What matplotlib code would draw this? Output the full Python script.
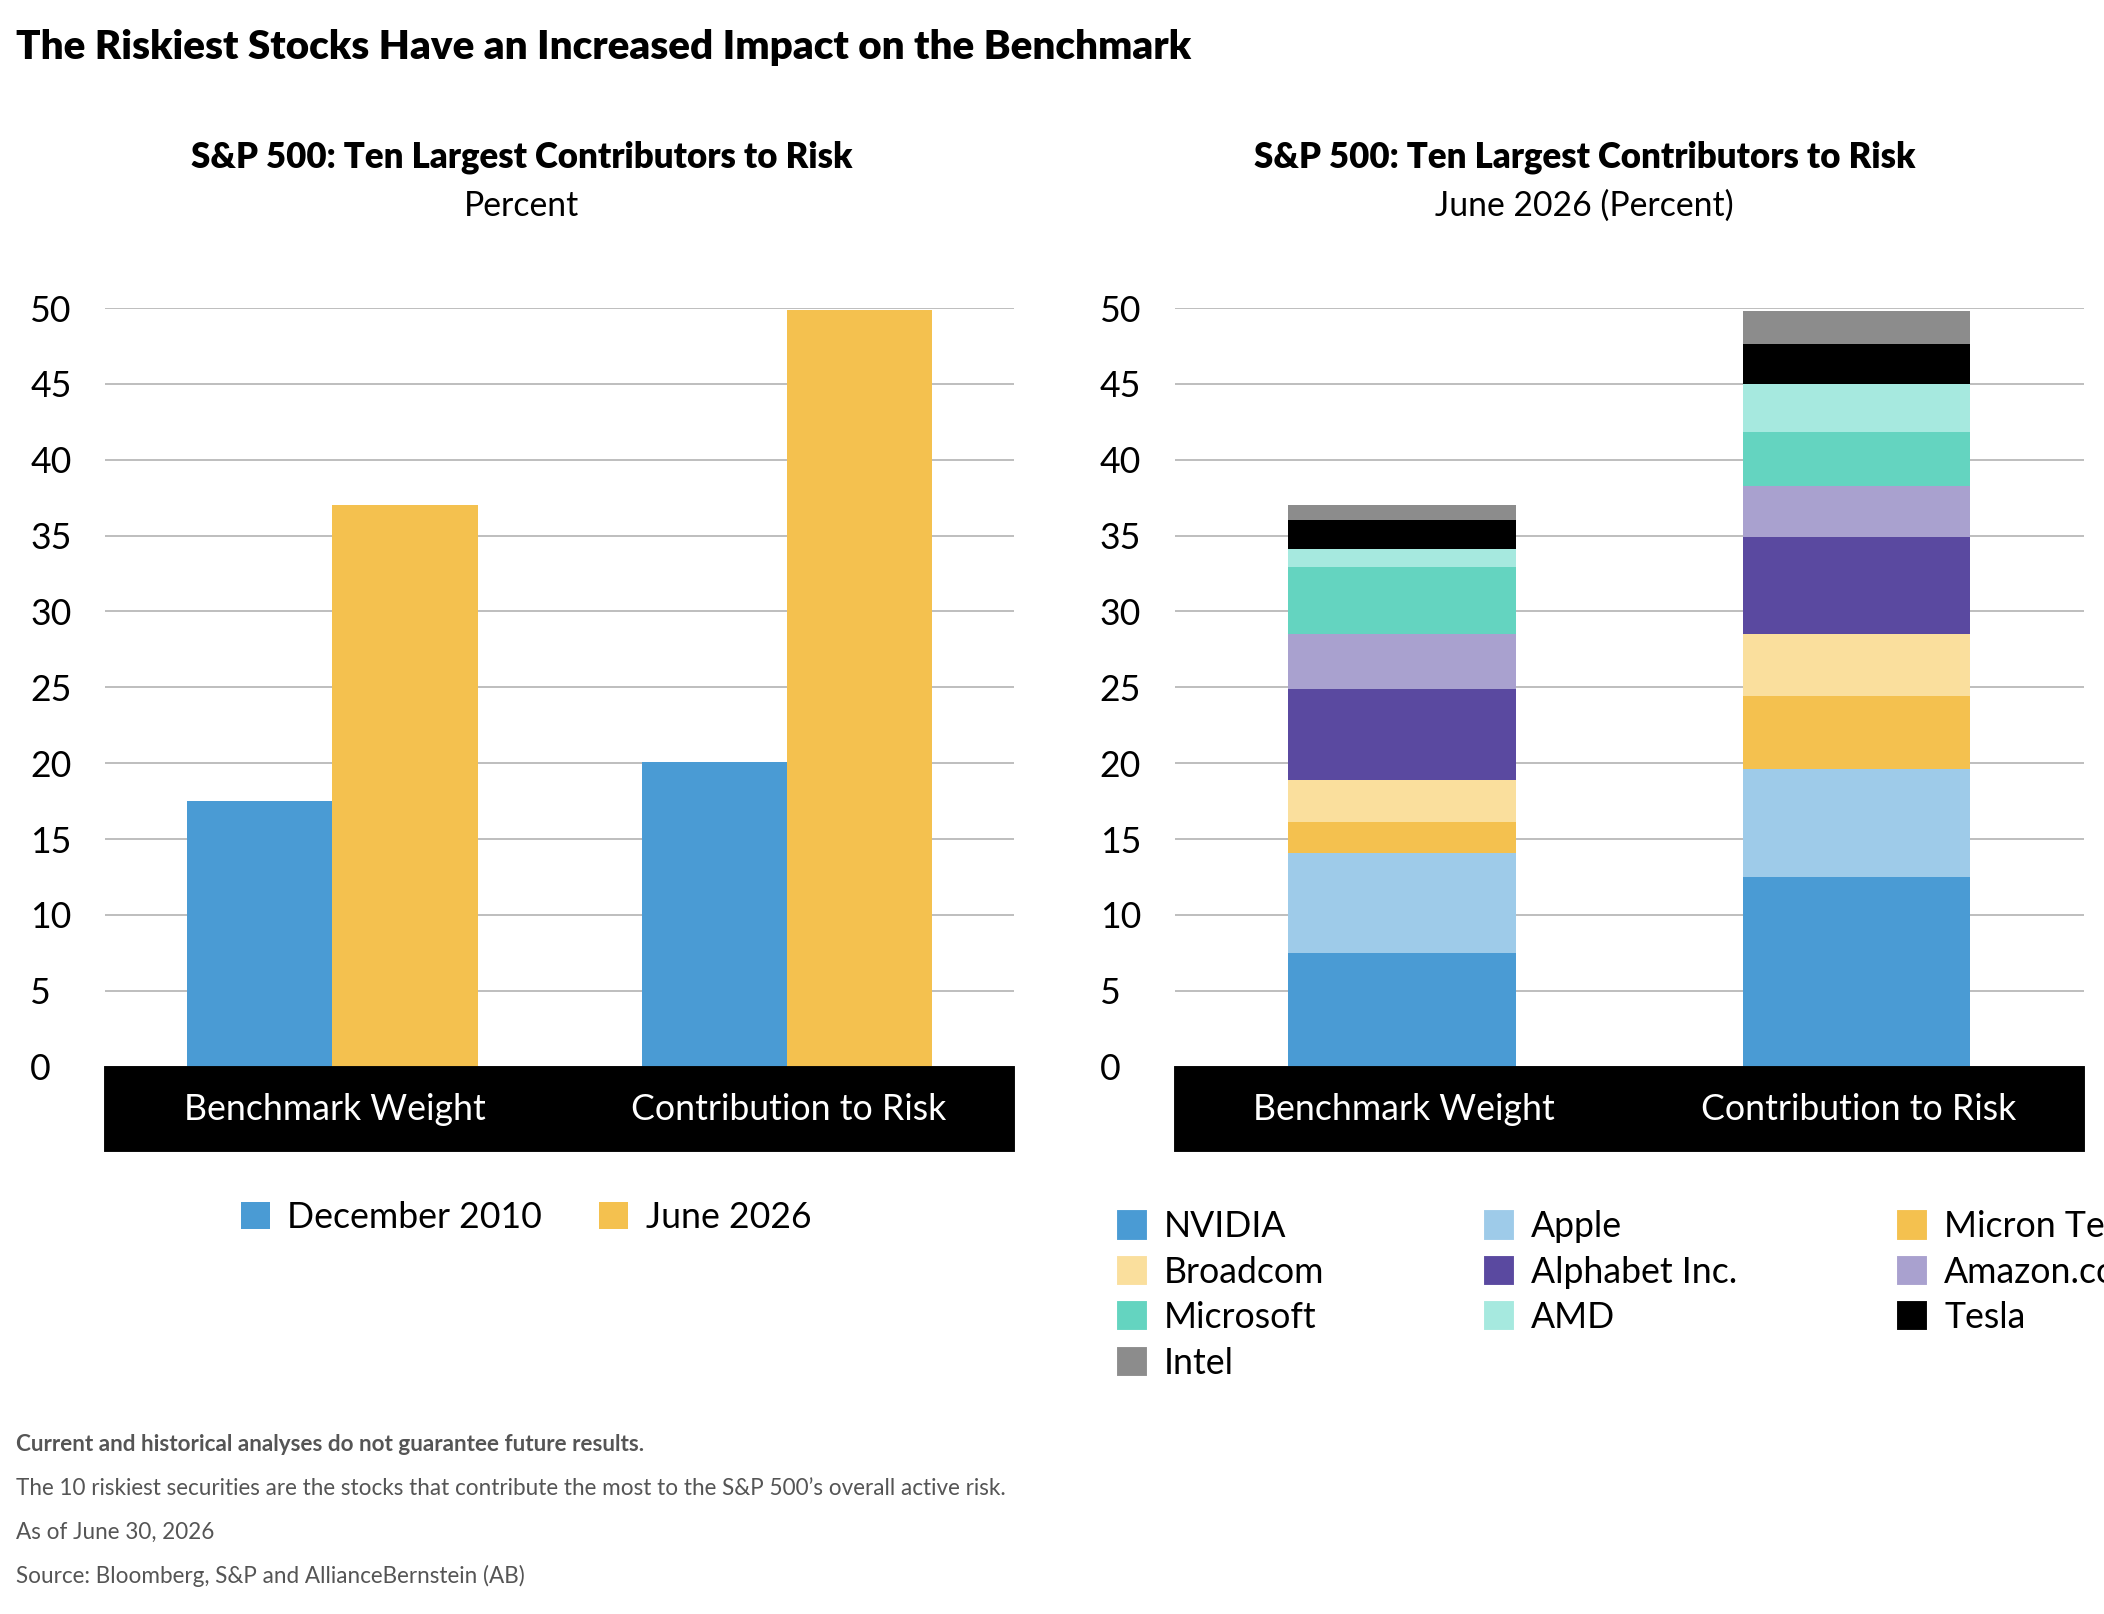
import matplotlib.pyplot as plt
from matplotlib.patches import Rectangle, Patch

plt.rcParams['font.family'] = ['Lato', 'DejaVu Sans']

categories = ['Benchmark Weight', 'Contribution to Risk']
dec_2010 = [17.5, 20.1]
jun_2026 = [37.0, 49.9]

stocks = ['NVIDIA', 'Apple', 'Micron Technology', 'Broadcom', 'Alphabet Inc.',
          'Amazon.com', 'Microsoft', 'AMD', 'Tesla', 'Intel']
bench_weight = [7.5, 6.6, 2.0, 2.8, 6.0, 3.6, 4.4, 1.2, 1.9, 1.0]
risk_contrib = [12.5, 7.1, 4.8, 4.1, 6.4, 3.4, 3.5, 3.2, 2.6, 2.2]
stock_colors = ['#4A9BD4', '#9ECBE9', '#F4C14F', '#FADF9D', '#5A49A0',
                '#A9A1CF', '#64D4C0', '#A6E9DF', '#000000', '#8C8C8C']

W, H = 1560, 1200
fig = plt.figure(figsize=(2104 / 135, 1614 / 135), dpi=135)

def fx(x): return x / W
def fy(y): return 1 - y / H

def setup(ax):
    ax.set_ylim(0, 50)
    ax.set_xlim(-0.5, 1.5)
    ax.set_yticks(range(0, 51, 5))
    ax.grid(axis='y', color='#BBBBBB', lw=1)
    ax.set_axisbelow(True)
    for s in ax.spines.values():
        s.set_visible(False)
    ax.tick_params(axis='y', length=0, labelsize=19, pad=40)
    ax.tick_params(axis='x', length=0, labelbottom=False)
    for lab in ax.get_yticklabels():
        lab.set_horizontalalignment('left')

# left panel
ax1 = fig.add_axes([fx(78), fy(793), fx(752 - 78), (793 - 229) / H])
setup(ax1)
x = [0, 1]
ax1.bar([i - 0.16 for i in x], dec_2010, width=0.32, color='#4A9BD4', label='December 2010')
ax1.bar([i + 0.16 for i in x], jun_2026, width=0.32, color='#F4C14F', label='June 2026')

# right panel
ax2 = fig.add_axes([fx(871), fy(793), fx(1545 - 871), (793 - 229) / H])
setup(ax2)
bottoms = [0, 0]
for name, a, b, c in zip(stocks, bench_weight, risk_contrib, stock_colors):
    ax2.bar(x, [a, b], width=0.5, bottom=bottoms, color=c, label=name)
    bottoms = [bottoms[0] + a, bottoms[1] + b]

# black category bands
for left in [78, 871]:
    fig.patches.append(Rectangle((fx(left), fy(856)), fx(674), 63 / H,
                                 transform=fig.transFigure, color='black'))
    for i, cat in enumerate(categories):
        xc = left + 174 + 337 * i - 4
        fig.text(fx(xc), fy(825), cat, color='white', fontsize=19,
                 ha='center', va='center')

fig.text(fx(12), fy(35), 'The Riskiest Stocks Have an Increased Impact on the Benchmark',
         fontsize=21.5, fontweight='heavy', va='center')
fig.text(fx(387), fy(117), 'S&P 500: Ten Largest Contributors to Risk', fontsize=18.5,
         fontweight='heavy', ha='center', va='center')
fig.text(fx(387), fy(153), 'Percent', fontsize=18, ha='center', va='center')
fig.text(fx(1175), fy(117), 'S&P 500: Ten Largest Contributors to Risk', fontsize=18.5,
         fontweight='heavy', ha='center', va='center')
fig.text(fx(1175), fy(153), 'June 2026 (Percent)', fontsize=18, ha='center', va='center')

h1, l1 = ax1.get_legend_handles_labels()
fig.legend(h1, l1, loc='center', bbox_to_anchor=(fx(390), fy(905)), ncol=2, frameon=False,
           fontsize=19, handlelength=0.8, handleheight=0.8, handletextpad=0.5,
           columnspacing=1.6)
order = [0, 3, 6, 9, 1, 4, 7, 2, 5, 8]
h2 = [Patch(color=stock_colors[i]) for i in order]
l2 = [stocks[i] for i in order]
fig.legend(h2, l2, loc='upper left', bbox_to_anchor=(fx(805), fy(876)), ncol=3,
           frameon=False, fontsize=19, handlelength=0.8, handleheight=0.8,
           handletextpad=0.5, columnspacing=4.5, labelspacing=0.35)

notes = ['Current and historical analyses do not guarantee future results.',
         'The 10 riskiest securities are the stocks that contribute the most to the S&P 500\u2019s overall active risk.',
         'As of June 30, 2026',
         'Source: Bloomberg, S&P and AllianceBernstein (AB)']
for i, n in enumerate(notes):
    fig.text(fx(12), fy(1074 + 32.5 * i), n, fontsize=12, color='#555555', va='center',
             fontweight='bold' if i == 0 else 'normal')

plt.savefig('out.png', dpi=135)
